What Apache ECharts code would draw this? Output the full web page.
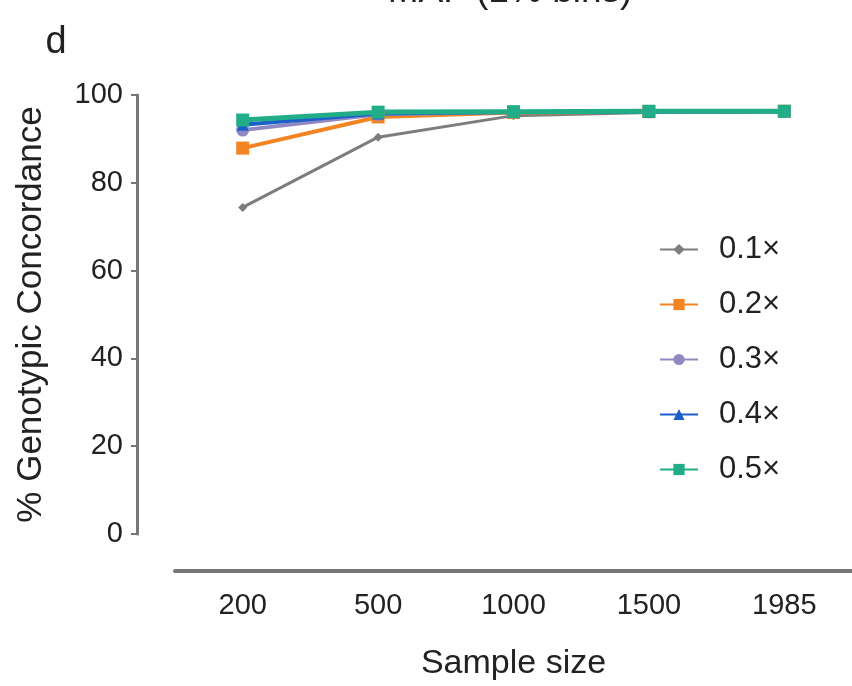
<!DOCTYPE html>
<html>
<head>
    <meta charset="utf-8">
    <title>Genotypic concordance</title>
    <script src="https://cdn.jsdelivr.net/npm/echarts@6/dist/echarts.min.js"></script>
</head>
<body style="margin:0;background:#fff;">
<div id="container" style="width:852px;height:686px;"></div>
<script type="text/javascript">
    // data
    var sampleSizes = ['200', '500', '1000', '1500', '1985'];
    var yTicks = [0, 20, 40, 60, 80, 100];
    var cov01 = [74.4, 90.4, 95.3, 96.0, 96.2];
    var cov02 = [87.9, 95.0, 96.0, 96.2, 96.3];
    var cov03 = [92.0, 95.6, 96.1, 96.2, 96.3];
    var cov04 = [93.2, 95.8, 96.1, 96.2, 96.3];
    var cov05 = [94.3, 96.1, 96.2, 96.3, 96.3];

    var fontName = 'Liberation Sans';
    var dom = document.getElementById("container");
    var myChart = echarts.init(dom);

    function line(name, data, color, symbol, size, width) {
        return {
            name: name,
            type: 'line',
            data: data,
            symbol: symbol,
            symbolSize: size,
            lineStyle: {color: color, width: width},
            itemStyle: {color: color},
            z: 2
        };
    }

    var option = {
        animation: false,
        textStyle: {fontFamily: fontName},
        graphic: [{
            type: 'text',
            x: 510, y: 10,
            style: {text: 'MAF (1% bins)', font: '37px "Liberation Sans"', fill: '#222', align: 'center', verticalAlign: 'bottom'}
        }, {
            type: 'text',
            x: 56, y: 62,
            style: {text: 'd', font: '38px "Liberation Sans"', fill: '#222', align: 'center', verticalAlign: 'bottom'}
        }],
        legend: {
            orient: 'vertical',
            left: 654, top: 229,
            itemWidth: 38, itemHeight: 14,
            itemGap: 24,
            textStyle: {fontSize: 31, color: '#222', fontFamily: fontName, padding: [0, 0, 0, 16]},
            data: ['0.1×', '0.2×', '0.3×', '0.4×', '0.5×']
        },
        grid: {left: 175, right: -4, top: 95, bottom: 145, containLabel: false},
        xAxis: {
            type: 'category',
            data: sampleSizes,
            boundaryGap: true,
            offset: 37,
            name: 'Sample size',
            nameLocation: 'middle',
            nameGap: 76,
            nameTextStyle: {fontSize: 34, color: '#222', fontFamily: fontName},
            axisLine: {onZero: false, lineStyle: {color: '#777', width: 4}},
            axisTick: {alignWithLabel: true, length: 6, lineStyle: {color: '#777', width: 2}},
            axisLabel: {fontSize: 29, color: '#222', margin: 20, fontFamily: fontName},
            splitLine: {show: false}
        },
        yAxis: {
            type: 'value',
            min: yTicks[0],
            max: yTicks[yTicks.length - 1],
            interval: 20,
            offset: 38,
            name: '% Genotypic Concordance',
            nameLocation: 'middle',
            nameGap: 88,
            nameTextStyle: {fontSize: 35, color: '#222', fontFamily: fontName},
            axisLine: {show: true, onZero: false, lineStyle: {color: '#777', width: 3}},
            axisTick: {show: true, length: 6, lineStyle: {color: '#777', width: 2}},
            axisLabel: {fontSize: 29, color: '#222', margin: 14, fontFamily: fontName},
            splitLine: {show: false}
        },
        series: [
            line('0.1×', cov01, '#7d7d7d', 'diamond', 9, 3),
            line('0.2×', cov02, '#f28522', 'rect', 13, 4),
            line('0.3×', cov03, '#8f88c2', 'circle', 13, 4),
            line('0.4×', cov04, '#1d5fc9', 'triangle', 12, 4),
            line('0.5×', cov05, '#20ad88', 'rect', 13, 5)
        ]
    };
    myChart.setOption(option, true);
</script>
</body>
</html>
